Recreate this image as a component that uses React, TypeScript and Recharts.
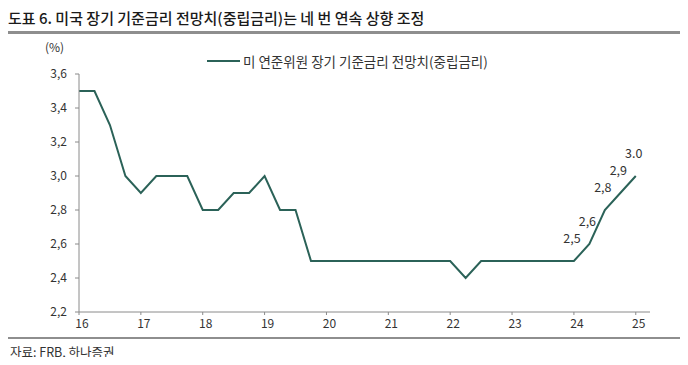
import React from "react";
import { LineChart, Line, XAxis, YAxis, LabelList } from "recharts";

const periods = [
  16, 16.25, 16.5, 16.75, 17, 17.25, 17.5, 17.75, 18, 18.25, 18.5, 18.75,
  19, 19.25, 19.5, 19.75, 20, 20.25, 20.5, 20.75, 21, 21.25, 21.5, 21.75,
  22, 22.25, 22.5, 22.75, 23, 23.25, 23.5, 23.75, 24, 24.25, 24.5, 24.75, 25,
];
const longRunRate = [
  3.5, 3.5, 3.3, 3.0, 2.9, 3.0, 3.0, 3.0, 2.8, 2.8, 2.9, 2.9,
  3.0, 2.8, 2.8, 2.5, 2.5, 2.5, 2.5, 2.5, 2.5, 2.5, 2.5, 2.5,
  2.5, 2.4, 2.5, 2.5, 2.5, 2.5, 2.5, 2.5, 2.5, 2.6, 2.8, 2.9, 3.0,
];
const pointLabels: (string | null)[] = [
  null, null, null, null, null, null, null, null, null, null, null, null,
  null, null, null, null, null, null, null, null, null, null, null, null,
  null, null, null, null, null, null, null, null, "2,5", "2,6", "2,8", "2,9", "3.0",
];
const xTicks = [16, 17, 18, 19, 20, 21, 22, 23, 24, 25];
const yTicks = [2.2, 2.4, 2.6, 2.8, 3.0, 3.2, 3.4, 3.6];

const seriesName = "미 연준위원 장기 기준금리 전망치(중립금리)";
const titleText = "도표 6. 미국 장기 기준금리 전망치(중립금리)는 네 번 연속 상향 조정";
const sourceText = "자료: FRB, 하나증권";

const data = periods.map((p, i) => ({ x: p, v: longRunRate[i], label: pointLabels[i] }));

const FONT = "'Noto Sans CJK KR', 'Noto Sans', sans-serif";
const LINE_COLOR = "#2b6258";
const AXIS_COLOR = "#8a8a8a";
const TEXT_COLOR = "#333333";

const renderLabel = (props: any) => {
  const { x, y, value } = props;
  if (value == null) return null;
  return (
    <text x={x - 2} y={y - 18} textAnchor="middle" fontSize={12.5} fill={TEXT_COLOR} fontFamily={FONT}>
      {value}
    </text>
  );
};

export default function App() {
  return (
    <div style={{ position: "relative", width: 672, height: 349, fontFamily: FONT, background: "#fff" }}>
      <div
        style={{
          position: "absolute",
          left: 0,
          top: 0,
          fontSize: 15,
          fontWeight: 500,
          color: "#1a1a1a",
          whiteSpace: "nowrap",
          lineHeight: "19px",
        }}
      >
        {titleText}
      </div>
      <div style={{ position: "absolute", left: 0, top: 23, width: 672, height: 3, background: "#8e8e8e" }} />
      <div style={{ position: "absolute", left: 37, top: 31, fontSize: 12, color: TEXT_COLOR, lineHeight: "16px" }}>(%)</div>
      <div
        style={{
          position: "absolute",
          left: 199,
          top: 44,
          display: "flex",
          alignItems: "center",
          fontSize: 13.5,
          color: TEXT_COLOR,
          lineHeight: "18px",
          whiteSpace: "nowrap",
        }}
      >
        <div style={{ width: 33, height: 2, background: LINE_COLOR, marginRight: 3 }} />
        <span>{seriesName}</span>
      </div>
      <div style={{ position: "absolute", left: 0, top: 0 }}>
        <LineChart width={672} height={330} data={data} margin={{ top: 66, right: 30, bottom: 0, left: 0 }}>
          <XAxis
            dataKey="x"
            type="number"
            domain={[16, 25.23]}
            ticks={xTicks}
            height={26}
            tickSize={3}
            tickMargin={4}
            stroke={AXIS_COLOR}
            tick={{ fill: TEXT_COLOR, fontSize: 12, fontFamily: FONT, dx: 3 }}
            axisLine={{ stroke: AXIS_COLOR }}
            tickLine={{ stroke: AXIS_COLOR }}
            interval={0}
          />
          <YAxis
            type="number"
            domain={[2.2, 3.6]}
            ticks={yTicks}
            width={71}
            tickSize={4}
            tickMargin={8}
            stroke={AXIS_COLOR}
            tick={{ fill: TEXT_COLOR, fontSize: 12, fontFamily: FONT }}
            tickFormatter={(v: number) => v.toFixed(1).replace(".", ",")}
            interval={0}
          />
          <Line
            type="linear"
            dataKey="v"
            name={seriesName}
            stroke={LINE_COLOR}
            strokeWidth={2}
            dot={false}
            activeDot={false}
            isAnimationActive={false}
          >
            <LabelList dataKey="label" content={renderLabel} />
          </Line>
        </LineChart>
      </div>
      <div style={{ position: "absolute", left: 0, top: 329, width: 672, height: 2, background: "#8e8e8e" }} />
      <div style={{ position: "absolute", left: 2, top: 335, fontSize: 12.5, color: TEXT_COLOR, lineHeight: "17px", whiteSpace: "nowrap" }}>
        {sourceText}
      </div>
    </div>
  );
}
